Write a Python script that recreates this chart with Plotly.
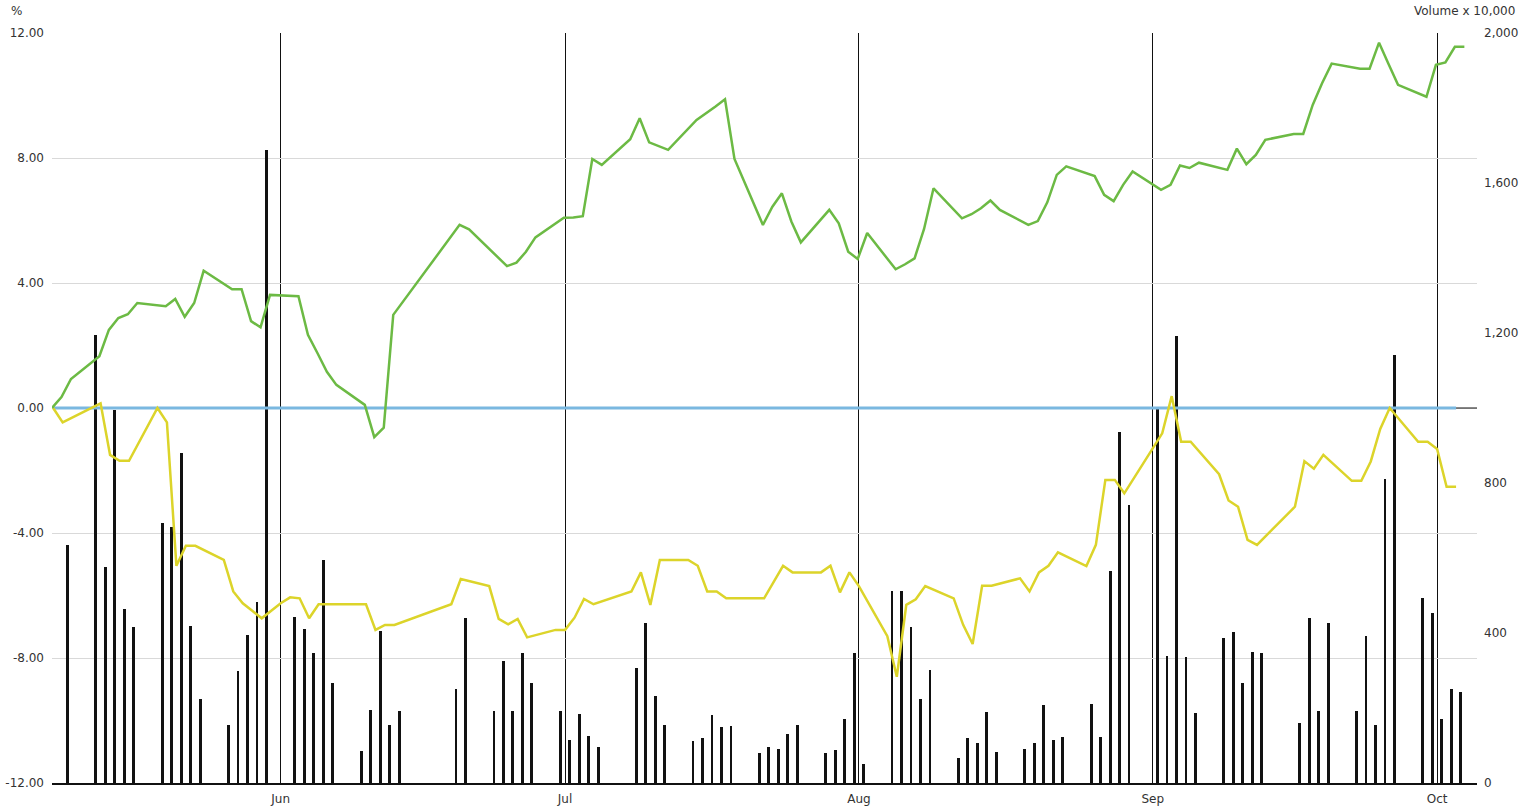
import pandas as pd
import plotly.graph_objects as go

# ---------------- data ----------------
# trading days (weekdays) of the stock
trade_dates = pd.bdate_range("2014-05-07", "2014-10-03")

# stock change, %  (None = no point on that day)
stock_may = [0, 0.35, 0.93, 1.66, 2.5, 2.88, 3.0, 3.36, 3.26, 3.49, 2.92, 3.36, 4.39, 3.8, 3.8, 2.78, 2.58, 3.62]
stock_jun = [3.58, 2.34, 1.76, 1.16, 0.74, 0.1, -0.93, -0.63, 2.98, None, None, None, None, 5.86, 5.72, None,
             4.54, 4.65, 5.0, 5.46, 6.09]
stock_jul = [6.1, 6.14, 7.97, 7.78, 8.6, 9.27, 8.5, 8.38, 8.26, 9.22, 9.43, 9.65, 9.88, 7.97, 5.86, 6.44, 6.87,
             5.97, 5.3, 6.34, 5.91, 5.0, 4.77]
stock_aug = [5.6, 4.44, 4.6, 4.79, 5.73, 7.03, 6.07, 6.2, 6.39, 6.64, 6.34, 5.86, 5.98, 6.58, 7.46, 7.73, 7.42,
             6.82, 6.62, 7.14, 7.57]
stock_sep = [6.98, 7.14, 7.76, 7.68, 7.85, 7.62, 8.3, 7.8, 8.1, 8.58, 8.77, 8.77, 9.7, 10.4, 11.02, 10.86, 10.86,
             11.69, 11.01, 10.34, 9.96, 10.98]
stock_oct = [11.06, 11.56, 11.56]

# volume, x 10,000
vol_may = [None, None, 635, 1195, 575, 996, 463, 415, 693, 684, 879, 420, 223, 156, 300, 396, 483, 1687]
vol_jun = [442, 411, 346, 595, 266, 86, 195, 405, 155, 192, None, None, None, 252, 439, 192, 326, 193, 346, 266, 193]
vol_jul = [116, 183, 126, 97, None, 308, 428, 232, 156, 113, 119, 182, 150, 152, 79, 97, 92, 130, 156, 79, 88,
           170, 346]
vol_aug = [52, 512, 512, 415, 223, 301, 66, 119, 106, 189, 82, 92, 106, 208, 115, 124, 212, 124, 565, 935, 741]
vol_sep = [1000, 340, 1192, 337, 186, 386, 402, 266, 349, 346, None, 159, 439, 192, 426, 192, 392, 156, 812,
           1141, 493, 453]
vol_oct = [170, 252, 242]

# benchmark index change, % (own trading calendar)
index_dates = [
    "2014-05-07", "2014-05-08", "2014-05-12", "2014-05-13", "2014-05-14", "2014-05-15", "2014-05-18",
    "2014-05-19", "2014-05-20", "2014-05-21", "2014-05-22", "2014-05-25", "2014-05-26", "2014-05-27",
    "2014-05-28", "2014-05-29", "2014-05-31", "2014-06-01", "2014-06-02", "2014-06-03", "2014-06-04",
    "2014-06-09", "2014-06-10", "2014-06-11", "2014-06-12", "2014-06-18", "2014-06-19", "2014-06-22",
    "2014-06-23", "2014-06-24", "2014-06-25", "2014-06-26", "2014-06-29", "2014-06-30", "2014-07-01",
    "2014-07-02", "2014-07-03", "2014-07-07", "2014-07-08", "2014-07-09", "2014-07-10", "2014-07-13",
    "2014-07-14", "2014-07-15", "2014-07-16", "2014-07-17", "2014-07-21", "2014-07-23", "2014-07-24",
    "2014-07-27", "2014-07-28", "2014-07-29", "2014-07-30", "2014-07-31", "2014-08-03", "2014-08-04",
    "2014-08-05", "2014-08-06", "2014-08-07", "2014-08-10", "2014-08-11", "2014-08-12", "2014-08-13",
    "2014-08-14", "2014-08-17", "2014-08-18", "2014-08-19", "2014-08-20", "2014-08-21", "2014-08-24",
    "2014-08-25", "2014-08-26", "2014-08-27", "2014-08-28", "2014-08-31", "2014-09-01", "2014-09-02",
    "2014-09-03", "2014-09-04", "2014-09-07", "2014-09-08", "2014-09-09", "2014-09-10", "2014-09-11",
    "2014-09-15", "2014-09-16", "2014-09-17", "2014-09-18", "2014-09-21", "2014-09-22", "2014-09-23",
    "2014-09-24", "2014-09-25", "2014-09-28", "2014-09-29", "2014-09-30", "2014-10-01", "2014-10-02",
]
index_pct = [
    0, -0.46, 0.15, -1.5, -1.69, -1.69, 0,
    -0.46, -5.05, -4.41, -4.41, -4.86, -5.87, -6.25,
    -6.49, -6.73, -6.25, -6.06, -6.09, -6.73, -6.28,
    -6.28, -7.1, -6.94, -6.94, -6.28, -5.47, -5.7,
    -6.75, -6.92, -6.75, -7.34, -7.1, -7.1, -6.71,
    -6.11, -6.28, -5.87, -5.26, -6.3, -4.86, -4.86,
    -5.05, -5.87, -5.87, -6.09, -6.09, -5.05, -5.26,
    -5.26, -5.05, -5.9, -5.26, -5.7, -7.3, -8.6,
    -6.3, -6.12, -5.7, -6.09, -6.94, -7.55, -5.69,
    -5.69, -5.45, -5.87, -5.26, -5.05, -4.62, -5.06,
    -4.38, -2.3, -2.3, -2.73, -1.29, -0.81, 0.38,
    -1.08, -1.08, -2.12, -2.96, -3.16, -4.22, -4.38,
    -3.16, -1.7, -1.94, -1.5, -2.33, -2.33, -1.71,
    -0.67, 0, -1.08, -1.08, -1.31, -2.52, -2.52,
]

month_ticks = ["2014-06-01", "2014-07-01", "2014-08-01", "2014-09-01", "2014-10-01"]
month_labels = ["Jun", "Jul", "Aug", "Sep", "Oct"]
pct_ticks = [-12, -8, -4, 0, 4, 8, 12]
vol_ticks = [0, 400, 800, 1200, 1600, 2000]
x_range = ["2014-05-07 21:00", "2014-10-05 05:00"]

# ---------------- figure ----------------
stock_pct = stock_may + stock_jun + stock_jul + stock_aug + stock_sep + stock_oct
volume = vol_may + vol_jun + vol_jul + vol_aug + vol_sep + vol_oct
assert len(stock_pct) == len(trade_dates) == len(volume)

bar_x = trade_dates + pd.Timedelta(hours=12)
stock_x = trade_dates + pd.Timedelta(hours=21)
index_x = pd.to_datetime(index_dates) + pd.Timedelta(hours=24)

FONT = "DejaVu Sans, Verdana, sans-serif"
TXT = "#333333"

fig = go.Figure()
fig.add_trace(go.Bar(x=bar_x, y=volume, yaxis="y", marker=dict(color="#111111", line=dict(width=0)),
                     width=0.3 * 86400000, hoverinfo="x+y"))
fig.add_trace(go.Scatter(x=index_x, y=[0] * len(index_x), yaxis="y2", mode="lines",
                         line=dict(color="#7ab8e0", width=3), hoverinfo="skip"))
fig.add_trace(go.Scatter(x=index_x, y=index_pct, yaxis="y2", mode="lines",
                         line=dict(color="#dcd42a", width=2.5)))
fig.add_trace(go.Scatter(x=stock_x, y=stock_pct, yaxis="y2", mode="lines", connectgaps=True,
                         line=dict(color="#6cba44", width=2.5)))

fig.add_shape(type="line", xref="x", yref="y2", x0=index_x[-1], x1=x_range[1], y0=0, y1=0,
              line=dict(color="#111111", width=1))

fig.update_layout(
    width=1531, height=809,
    margin=dict(l=52, r=54, t=33, b=26, autoexpand=False),
    paper_bgcolor="white", plot_bgcolor="white",
    showlegend=False, bargap=0,
    font=dict(family=FONT, size=12, color=TXT),
    xaxis=dict(type="date", range=x_range, tickvals=month_ticks, ticktext=month_labels, automargin=False,
               showgrid=True, gridcolor="#111111", gridwidth=1, showline=True, linecolor="#111111",
               linewidth=2, ticks="", zeroline=False, ticklabelstandoff=4,
               tickfont=dict(size=12, color=TXT, family=FONT)),
    yaxis=dict(side="right", range=[0, 2000], tickvals=vol_ticks, ticktext=[f"{v:,}" for v in vol_ticks],
               showgrid=False, zeroline=False, showline=False, ticks="", ticklabelstandoff=6, automargin=False,
               tickfont=dict(size=12, color=TXT, family=FONT)),
    yaxis2=dict(overlaying="y", side="left", range=[-12, 12], tickvals=pct_ticks, automargin=False,
                ticktext=[f"{v:.2f}" for v in pct_ticks], showgrid=True, gridcolor="#d9d9d9",
                zeroline=False, showline=False, ticks="", ticklabelstandoff=7,
                tickfont=dict(size=12, color=TXT, family=FONT)),
    annotations=[
        dict(text="%", xref="paper", yref="paper", x=-0.0246, y=1.0293, xanchor="center", yanchor="middle",
             showarrow=False, font=dict(size=12, color=TXT, family=FONT)),
        dict(text="Volume x 10,000", xref="paper", yref="paper", x=1.028, y=1.0293, xanchor="right",
             yanchor="middle", showarrow=False, font=dict(size=12, color=TXT, family=FONT)),
    ],
)

# remove the browser's default 8px page margin so the figure sits at the window's top-left corner
fig.write_html("out.html", config={"displayModeBar": False},
               post_script="document.body.style.margin='0';")
